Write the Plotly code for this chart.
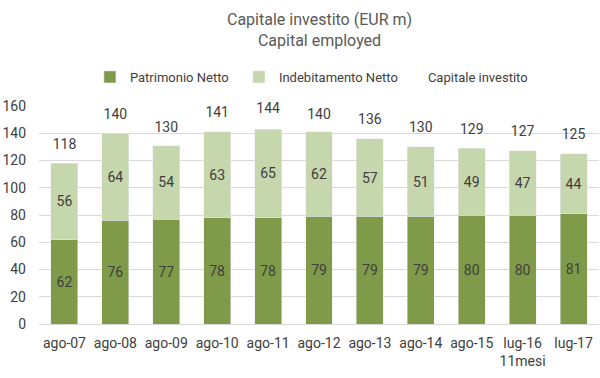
import plotly.graph_objects as go

categories = ["ago-07", "ago-08", "ago-09", "ago-10", "ago-11", "ago-12",
              "ago-13", "ago-14", "ago-15", "lug-16<br>11mesi", "lug-17"]
patrimonio = [62, 76, 77, 78, 78, 79, 79, 79, 80, 80, 81]
indebitamento = [56, 64, 54, 63, 65, 62, 57, 51, 49, 47, 44]
capitale = [118, 140, 130, 141, 144, 140, 136, 130, 129, 127, 125]

FONT = "Roboto"
TXT = "#404040"

fig = go.Figure()
fig.add_trace(go.Bar(x=categories, y=patrimonio, name="Patrimonio Netto",
                     marker_color="#7f9a48", text=patrimonio, textposition="inside",
                     insidetextanchor="middle", textfont=dict(color=TXT, size=14, family=FONT)))
fig.add_trace(go.Bar(x=categories, y=indebitamento, name="Indebitamento Netto",
                     marker_color="#c6d6ad", text=indebitamento, textposition="inside",
                     insidetextanchor="middle", textfont=dict(color=TXT, size=14, family=FONT)))
fig.add_trace(go.Scatter(x=categories, y=capitale, name="Capitale investito",
                         mode="lines+markers+text", line=dict(color="rgba(0,0,0,0)", width=0),
                         marker=dict(size=16, color="rgba(0,0,0,0)"),
                         text=capitale, textposition="top center", cliponaxis=False,
                         textfont=dict(color=TXT, size=14, family=FONT)))

fig.update_layout(
    width=600, height=378,
    barmode="stack", bargap=0.47,
    paper_bgcolor="white", plot_bgcolor="white",
    margin=dict(l=39, r=1, t=106, b=54, autoexpand=False),
    legend=dict(orientation="h", x=0.49, xanchor="center", y=1.133, yanchor="middle",
                font=dict(family=FONT, size=13, color=TXT), traceorder="normal",
                itemwidth=30, entrywidth=104, entrywidthmode="pixels"),
    font=dict(family=FONT, color=TXT),
    uniformtext=dict(minsize=8, mode="show"),
    annotations=[dict(text="Capitale investito (EUR m)<br>Capital employed",
                      xref="paper", yref="paper", x=0.5, y=1 + (106 - 30) / 218,
                      xanchor="center", yanchor="middle", showarrow=False,
                      font=dict(family=FONT, size=16, color="#595959"))],
)
fig.update_yaxes(range=[0, 160], dtick=20, showgrid=True, gridcolor="#d9d9d9",
                 zeroline=False, tickfont=dict(size=14, color=TXT, family=FONT),
                 showline=False, ticks="", ticklabelstandoff=12, automargin=False)
fig.update_xaxes(showline=True, linecolor="#d9d9d9", ticks="", automargin=False,
                 range=[-0.5, len(categories) - 0.5],
                 tickfont=dict(size=14, color=TXT, family=FONT), ticklabelstandoff=6)
fig.write_html("out.html", config={"displayModeBar": False},
               post_script="document.body.style.margin='0px';")
